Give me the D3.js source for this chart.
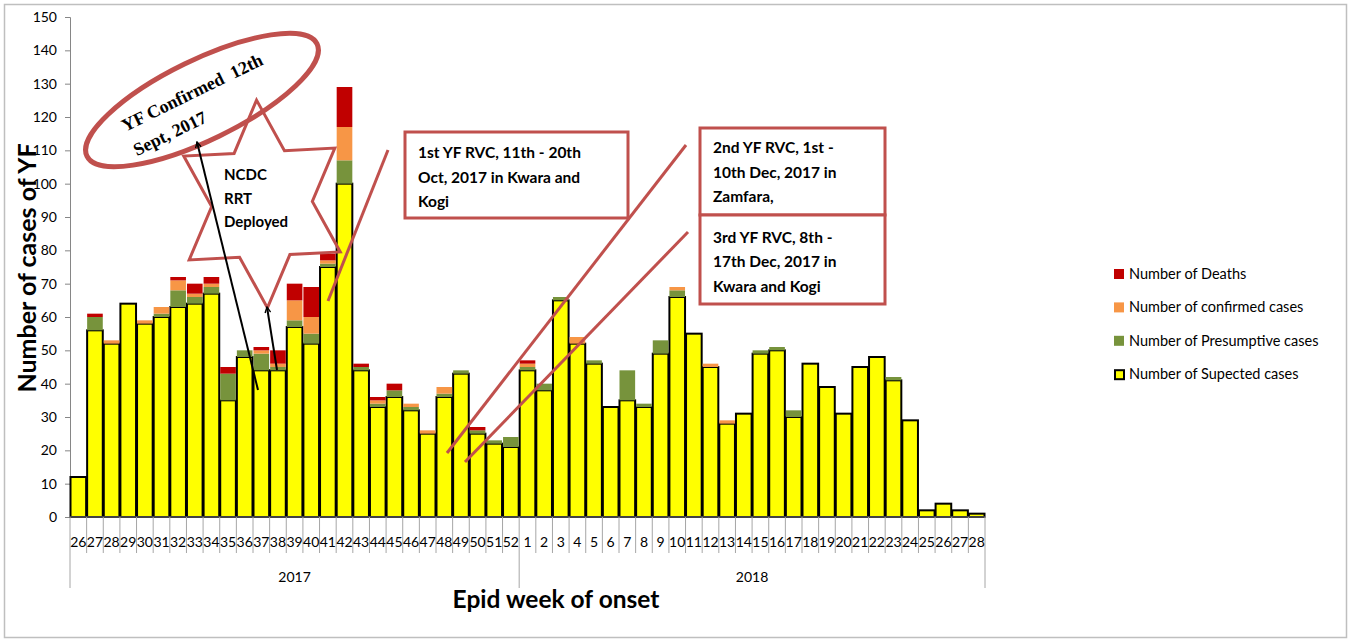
<!DOCTYPE html>
<html>
<head>
<meta charset="utf-8">
<script src="https://cdn.jsdelivr.net/npm/d3@7"></script>
<style>
  html, body { margin: 0; padding: 0; background: #fff; }
  svg { display: block; font-family: Lato, "Open Sans", sans-serif; }
</style>
</head>
<body>
<svg id="chart" width="1351" height="642"></svg>
<script>
// ---- Data ----
const weeks2017 = ["26","27","28","29","30","31","32","33","34","35","36","37","38","39","40","41","42","43","44","45","46","47","48","49","50","51","52"];
const weeks2018 = ["1","2","3","4","5","6","7","8","9","10","11","12","13","14","15","16","17","18","19","20","21","22","23","24","25","26","27","28"];
const years = ["2017", "2018"];

const suspected = [12,56,52,64,58,60,63,64,67,35,48,44,44,57,52,75,100,44,33,36,32,25,36,43,25,22,21,
                   44,38,65,52,46,33,35,33,49,66,55,45,28,31,49,50,30,46,39,31,45,48,41,29,2,4,2,1];
const presumptive = [0,4,0,0,0,1,5,2,2,8,2,5,1,2,3,1,7,1,1,2,1,0,1,1,1,1,3,
                     1,2,1,0,1,0,9,1,4,2,0,0,0,0,1,1,2,0,0,0,0,0,1,0,0,0,0,0];
const confirmed = [0,0,1,0,1,2,3,1,1,0,0,1,1,6,5,1,10,0,1,0,1,1,2,0,0,0,0,
                   1,0,0,2,0,0,0,0,0,1,0,1,1,0,0,0,0,0,0,0,0,0,0,0,0,0,0,0];
const deaths = [0,1,0,0,0,0,1,3,2,2,0,1,4,5,9,2,12,1,1,2,0,0,0,0,1,0,0,
                1,0,0,0,0,0,0,0,0,0,0,0,0,0,0,0,0,0,0,0,0,0,0,0,0,0,0,0];
const yTicks = [0,10,20,30,40,50,60,70,80,90,100,110,120,130,140,150];

const seriesKeys = ["suspected","presumptive","confirmed","deaths"];
const seriesNames = {
  deaths: "Number of Deaths",
  confirmed: "Number of confirmed cases",
  presumptive: "Number of Presumptive cases",
  suspected: "Number of Supected cases"
};
const colors = { suspected: "#ffff00", presumptive: "#77933c", confirmed: "#f79646", deaths: "#c00000" };

// ---- Build table ----
const cats = weeks2017.map(w => ({key: "2017-" + w, label: w, year: "2017"}))
  .concat(weeks2018.map(w => ({key: "2018-" + w, label: w, year: "2018"})));
const table = cats.map((c, i) => ({
  key: c.key, label: c.label, year: c.year,
  suspected: suspected[i], presumptive: presumptive[i], confirmed: confirmed[i], deaths: deaths[i]
}));

// ---- Layout ----
const svg = d3.select("#chart");
const W = 1351, H = 642;
const m = {left: 70, top: 17, right: 366, bottom: 125};
const iw = W - m.left - m.right; // 915
const ih = H - m.top - m.bottom; // 500

svg.append("rect").attr("x", 4.5).attr("y", 4.5).attr("width", W - 9).attr("height", H - 9)
  .attr("fill", "none").attr("stroke", "#bfbfbf").attr("stroke-width", 1.5);

const g = svg.append("g").attr("transform", `translate(${m.left},${m.top})`);

const x = d3.scaleBand().domain(cats.map(c => c.key)).range([0, iw]).paddingInner(0.06).paddingOuter(0.03);
const y = d3.scaleLinear().domain([0, 150]).range([ih, 0]);

// ---- Y axis ----
const yAxis = g.append("g").call(d3.axisLeft(y).tickValues(yTicks).tickSize(5).tickPadding(8));
yAxis.selectAll("path, line").attr("stroke", "#868686");
yAxis.selectAll("text").attr("font-size", 14).attr("fill", "#000").style("font-family", "Lato, sans-serif");

// ---- Bars ----
const stacked = d3.stack().keys(seriesKeys)(table);
const layers = g.selectAll(".layer").data(stacked).join("g").attr("class", "layer")
  .attr("fill", d => colors[d.key]);
layers.each(function(layer) {
  const sel = d3.select(this).selectAll("rect")
    .data(layer.filter(d => d[1] - d[0] > 0))
    .join("rect")
    .attr("x", d => x(d.data.key))
    .attr("width", x.bandwidth())
    .attr("y", d => y(d[1]))
    .attr("height", d => y(d[0]) - y(d[1]));
  if (layer.key === "suspected") {
    sel.attr("stroke", "#000").attr("stroke-width", 2);
  }
});

// ---- X axis (two level) ----
const xa = g.append("g").attr("transform", `translate(0,${ih})`);
xa.append("line").attr("x1", 0).attr("x2", iw).attr("y1", 0).attr("y2", 0).attr("stroke", "#868686");
const boundaries = d3.range(cats.length + 1).map(i => i * iw / cats.length);
xa.selectAll(".tk").data(boundaries).join("line")
  .attr("x1", d => d).attr("x2", d => d).attr("y1", 0)
  .attr("y2", (d, i) => (i === 0 || i === weeks2017.length || i === cats.length) ? 71 : 36)
  .attr("stroke", "#a6a6a6").attr("stroke-width", 1);
xa.selectAll(".wl").data(cats).join("text")
  .attr("x", (d, i) => (i + 0.5) * iw / cats.length)
  .attr("y", 30)
  .attr("text-anchor", "middle").attr("font-size", 14).attr("fill", "#000")
  .text(d => d.label);
const yearSpans = [[0, weeks2017.length], [weeks2017.length, cats.length]];
xa.selectAll(".yl").data(years).join("text")
  .attr("x", (d, i) => (yearSpans[i][0] + yearSpans[i][1]) / 2 * iw / cats.length)
  .attr("y", 65)
  .attr("text-anchor", "middle").attr("font-size", 14).attr("fill", "#000")
  .text(d => d);

// ---- Axis titles ----
svg.append("text").attr("x", 556).attr("y", 608).attr("text-anchor", "middle")
  .attr("font-size", 24.5).attr("font-weight", "bold").attr("fill", "#000").text("Epid week of onset");
svg.append("text").attr("transform", "translate(36,268) rotate(-90)").attr("text-anchor", "middle")
  .attr("font-size", 25).attr("font-weight", "bold").attr("fill", "#000").text("Number of cases of YF");

// ---- Legend ----
const legendOrder = ["deaths","confirmed","presumptive","suspected"];
const lg = svg.append("g").attr("transform", "translate(1114,274)");
legendOrder.forEach((k, i) => {
  const row = lg.append("g").attr("transform", `translate(0,${i * 33.4})`);
  if (k === "suspected") {
    row.append("rect").attr("x", 1).attr("y", -4).attr("width", 9).attr("height", 9)
      .attr("fill", colors[k]).attr("stroke", "#000").attr("stroke-width", 2);
  } else {
    row.append("rect").attr("x", 0).attr("y", -5).attr("width", 10).attr("height", 10).attr("fill", colors[k]);
  }
  row.append("text").attr("x", 15).attr("y", 5).attr("font-size", 14.5).attr("fill", "#000").text(seriesNames[k]);
});

// ---- Annotations ----
const annRed = "#c0504d";
const ann = svg.append("g");

// red lines
const redLines = [[328,301,388,150],[447,453,686,145],[465,462,688,232]];
ann.selectAll(".rl").data(redLines).join("line")
  .attr("x1", d => d[0]).attr("y1", d => d[1]).attr("x2", d => d[2]).attr("y2", d => d[3])
  .attr("stroke", annRed).attr("stroke-width", 3);

// ellipse
const el = ann.append("g").attr("transform", "translate(202,100) rotate(-26)");
el.append("ellipse").attr("rx", 128).attr("ry", 40).attr("fill", "#fff")
  .attr("stroke", annRed).attr("stroke-width", 5);
el.selectAll("text").data(["YF Confirmed  12th", "Sept, 2017"]).join("text")
  .attr("x", -83).attr("y", (d, i) => -5 + i * 27)
  .style("font-family", "'Liberation Serif', 'Times New Roman', serif")
  .attr("font-size", 18).attr("font-weight", "bold").attr("fill", "#000")
  .attr("xml:space", "preserve").style("white-space", "pre").text(d => d);

// hexagram star (outline only, over the ellipse)
const sc = [262, 204], Ro = 104, Ri = 60, sx = 0.84, tilt = -3 * Math.PI / 180;
const starPts = d3.range(12).map(i => {
  const a = -Math.PI / 2 + i * Math.PI / 6;
  const r = i % 2 === 0 ? Ro : Ri;
  const px = r * Math.cos(a) * sx, py = r * Math.sin(a);
  return [sc[0] + px * Math.cos(tilt) - py * Math.sin(tilt), sc[1] + px * Math.sin(tilt) + py * Math.cos(tilt)];
});
ann.append("path").attr("d", "M" + starPts.map(p => p.join(",")).join("L") + "Z")
  .attr("fill", "none").attr("stroke", annRed).attr("stroke-width", 3).attr("stroke-linejoin", "miter");
ann.selectAll(".st").data(["NCDC","RRT","Deployed"]).join("text")
  .attr("x", 224).attr("y", (d, i) => 180 + i * 23.5)
  .attr("font-size", 15).attr("font-weight", "bold").attr("fill", "#000").text(d => d);

// arrows
const defs = svg.append("defs");
defs.append("marker").attr("id", "ah").attr("viewBox", "0 0 10 10").attr("refX", 9).attr("refY", 5)
  .attr("markerWidth", 7).attr("markerHeight", 7).attr("orient", "auto-start-reverse")
  .attr("markerUnits", "userSpaceOnUse")
  .append("path").attr("d", "M1,1 L9,5 L1,9").attr("fill", "none").attr("stroke", "#000").attr("stroke-width", 2);
const arrows = [[258,390,197,142],[277,370,267,307]];
ann.selectAll(".ar").data(arrows).join("line")
  .attr("x1", d => d[0]).attr("y1", d => d[1]).attr("x2", d => d[2]).attr("y2", d => d[3])
  .attr("stroke", "#000").attr("stroke-width", 2).attr("marker-end", "url(#ah)");

// boxes
const boxes = [
  {x: 405, y: 132, w: 223, h: 86, lines: ["1st YF RVC, 11th - 20th", "Oct, 2017 in Kwara and", "Kogi"], base: [158,183,207], tx: 418},
  {x: 700, y: 128, w: 185, h: 87, lines: ["2nd YF RVC, 1st -", "10th Dec, 2017 in", "Zamfara,"], base: [153,178,202], tx: 713},
  {x: 700, y: 215, w: 185, h: 89, lines: ["3rd YF RVC, 8th -", "17th Dec, 2017 in", "Kwara and Kogi"], base: [243,267,292], tx: 713}
];
boxes.forEach(b => {
  ann.append("rect").attr("x", b.x).attr("y", b.y).attr("width", b.w).attr("height", b.h)
    .attr("fill", "#fff").attr("stroke", annRed).attr("stroke-width", 3);
  b.lines.forEach((t, i) => {
    ann.append("text").attr("x", b.tx).attr("y", b.base[i]).attr("font-size", 15.5)
      .attr("font-weight", "bold").attr("fill", "#000").text(t);
  });
});
</script>
</body>
</html>
